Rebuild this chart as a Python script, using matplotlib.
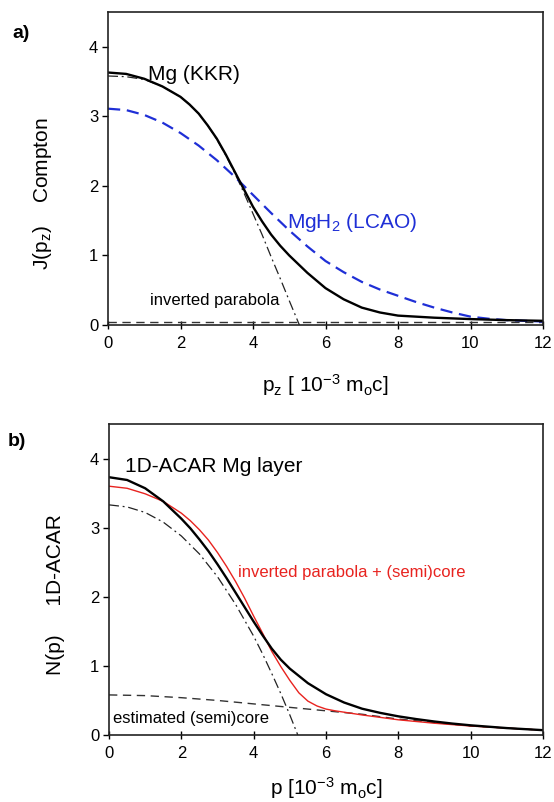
import numpy as np
import matplotlib
matplotlib.use("Agg")
import matplotlib.pyplot as plt

plt.rcParams["font.family"] = ["Liberation Sans", "DejaVu Sans"]
plt.rcParams["mathtext.fontset"] = "custom"
plt.rcParams["mathtext.rm"] = "Liberation Sans"
plt.rcParams["mathtext.it"] = "Liberation Sans"

# ---- panel a: Compton profiles ----
p_kkr = [0, 0.5, 1, 1.5, 2, 2.25, 2.5, 2.75, 3, 3.25, 3.5, 3.75, 4, 4.25, 4.5, 4.75,
         5, 5.5, 6, 6.5, 7, 7.5, 8, 8.5, 9, 9.5, 10, 11, 12]
j_kkr = [3.63, 3.61, 3.54, 3.43, 3.28, 3.17, 3.04, 2.87, 2.68, 2.45, 2.20, 1.95, 1.70,
         1.49, 1.30, 1.14, 1.00, 0.75, 0.53, 0.37, 0.25, 0.18, 0.135, 0.12, 0.105,
         0.095, 0.085, 0.07, 0.06]

p_lcao = [0, 0.5, 1, 1.5, 2, 2.5, 3, 3.5, 4, 4.5, 5, 5.5, 6, 6.5, 7, 7.5, 8, 8.5,
          9, 9.5, 10, 10.5, 11, 11.5, 12]
j_lcao = [3.11, 3.09, 3.02, 2.91, 2.76, 2.58, 2.37, 2.13, 1.87, 1.61, 1.36, 1.13, 0.92,
          0.76, 0.62, 0.51, 0.42, 0.33, 0.25, 0.18, 0.12, 0.09, 0.07, 0.06, 0.05]

p_par_a = [0, 0.5, 1, 1.5, 2, 2.25, 2.5, 2.75, 3, 3.25, 3.5, 3.75, 4, 4.25, 4.5,
           4.75, 5, 5.28]
j_par_a = [3.58, 3.57, 3.53, 3.43, 3.28, 3.17, 3.04, 2.87, 2.67, 2.44, 2.18, 1.90,
           1.60, 1.30, 0.98, 0.67, 0.35, 0.0]

p_base_a = [0, 12]
j_base_a = [0.04, 0.04]

# ---- panel b: 1D-ACAR ----
p_acar = [0, 0.5, 1, 1.5, 2, 2.25, 2.5, 2.75, 3, 3.25, 3.5, 3.75, 4, 4.25, 4.5, 4.75,
          5, 5.5, 6, 6.5, 7, 7.5, 8, 8.5, 9, 9.5, 10, 11, 12]
n_acar = [3.73, 3.69, 3.57, 3.38, 3.13, 2.99, 2.83, 2.66, 2.47, 2.27, 2.06, 1.85, 1.64,
          1.44, 1.25, 1.09, 0.96, 0.75, 0.59, 0.47, 0.38, 0.32, 0.27, 0.23, 0.195,
          0.165, 0.14, 0.10, 0.07]

p_fit = [0, 0.5, 1, 1.5, 2, 2.25, 2.5, 2.75, 3, 3.25, 3.5, 3.75, 4, 4.25, 4.5, 4.75,
         5, 5.25, 5.5, 5.75, 6, 6.25, 6.5, 7, 7.5, 8, 9, 10, 11, 12]
n_fit = [3.60, 3.57, 3.49, 3.38, 3.21, 3.10, 2.97, 2.82, 2.64, 2.44, 2.22, 1.98, 1.72,
         1.47, 1.21, 0.99, 0.79, 0.61, 0.49, 0.42, 0.375, 0.35, 0.33, 0.29, 0.255,
         0.22, 0.17, 0.13, 0.10, 0.07]

p_par_b = [0, 0.5, 1, 1.5, 2, 2.5, 3, 3.5, 4, 4.25, 4.5, 4.75, 5, 5.22]
n_par_b = [3.33, 3.30, 3.22, 3.08, 2.88, 2.62, 2.29, 1.89, 1.43, 1.17, 0.89, 0.60,
           0.29, 0.0]

p_core = [0, 1, 2, 3, 4, 5, 6, 7, 8, 9, 10, 11, 12]
n_core = [0.58, 0.57, 0.54, 0.5, 0.45, 0.4, 0.35, 0.3, 0.23, 0.18, 0.13, 0.10, 0.07]

fig = plt.figure(figsize=(5.54, 8.02), dpi=100)
ax_a = fig.add_axes([108 / 554, 1 - 325 / 802, 435 / 554, 313 / 802])
ax_b = fig.add_axes([109 / 554, 1 - 735 / 802, 434 / 554, 311 / 802])

ax_a.plot(p_base_a, j_base_a, color="#333333", lw=1.0, ls=(0, (6, 4)))
ax_a.plot(p_par_a, j_par_a, color="#222222", lw=0.9, ls=(0, (8, 3, 1.5, 3)))
ax_a.plot(p_lcao, j_lcao, color="#1f2fd6", lw=1.6, ls=(0, (5.5, 3)))
ax_a.plot(p_kkr, j_kkr, color="black", lw=1.7)

ax_a.text(1.1, 3.52, "Mg (KKR)", fontsize=15, va="baseline")
ax_a.text(4.94, 1.40, r"MgH$_\mathregular{2}$ (LCAO)", fontsize=15, va="baseline",
          color="#1f2fd6")
ax_a.text(1.16, 0.29, "inverted parabola", fontsize=12, va="baseline")
ax_a.set_xlabel(r"p$_\mathregular{z}$ [ 10$^\mathregular{-3}$ m$_\mathregular{o}$c]",
                fontsize=15, labelpad=15)
ax_a.set_ylabel(r"J(p$_\mathregular{z}$)    Compton", fontsize=15)
ax_a.yaxis.set_label_coords(-0.123, 0.42)

ax_b.plot(p_core, n_core, color="#333333", lw=1.0, ls=(0, (6, 4)))
ax_b.plot(p_par_b, n_par_b, color="#222222", lw=0.9, ls=(0, (8, 3, 1.5, 3)))
ax_b.plot(p_fit, n_fit, color="#e8231f", lw=1.0)
ax_b.plot(p_acar, n_acar, color="black", lw=1.7)

ax_b.text(0.44, 3.8, "1D-ACAR Mg layer", fontsize=15, va="baseline")
ax_b.text(3.56, 2.29, "inverted parabola + (semi)core", fontsize=12, va="baseline",
          color="#e8231f")
ax_b.text(0.11, 0.17, "estimated (semi)core", fontsize=12, va="baseline")
ax_b.set_xlabel(r"p [10$^\mathregular{-3}$ m$_\mathregular{o}$c]", fontsize=15, labelpad=10)
ax_b.set_ylabel(r"N(p)     1D-ACAR", fontsize=15)
ax_b.yaxis.set_label_coords(-0.102, 0.45)

for ax in (ax_a, ax_b):
    ax.set_xlim(0, 12)
    ax.set_ylim(0, 4.5)
    ax.set_xticks([0, 2, 4, 6, 8, 10, 12])
    ax.set_yticks([0, 1, 2, 3, 4])
    ax.tick_params(axis="x", direction="inout", length=6, width=1, labelsize=12, pad=5)
    ax.tick_params(axis="y", direction="out", length=4, width=1, labelsize=12, pad=3)
    for s in ax.spines.values():
        s.set_linewidth(1.2)
        s.set_color("#222222")

fig.text(12 / 554, 1 - 33 / 802, "a)", fontsize=14, fontweight="bold", va="center")
fig.text(8 / 554, 1 - 441 / 802, "b)", fontsize=14, fontweight="bold", va="center")

fig.savefig("out.png", dpi=100)
